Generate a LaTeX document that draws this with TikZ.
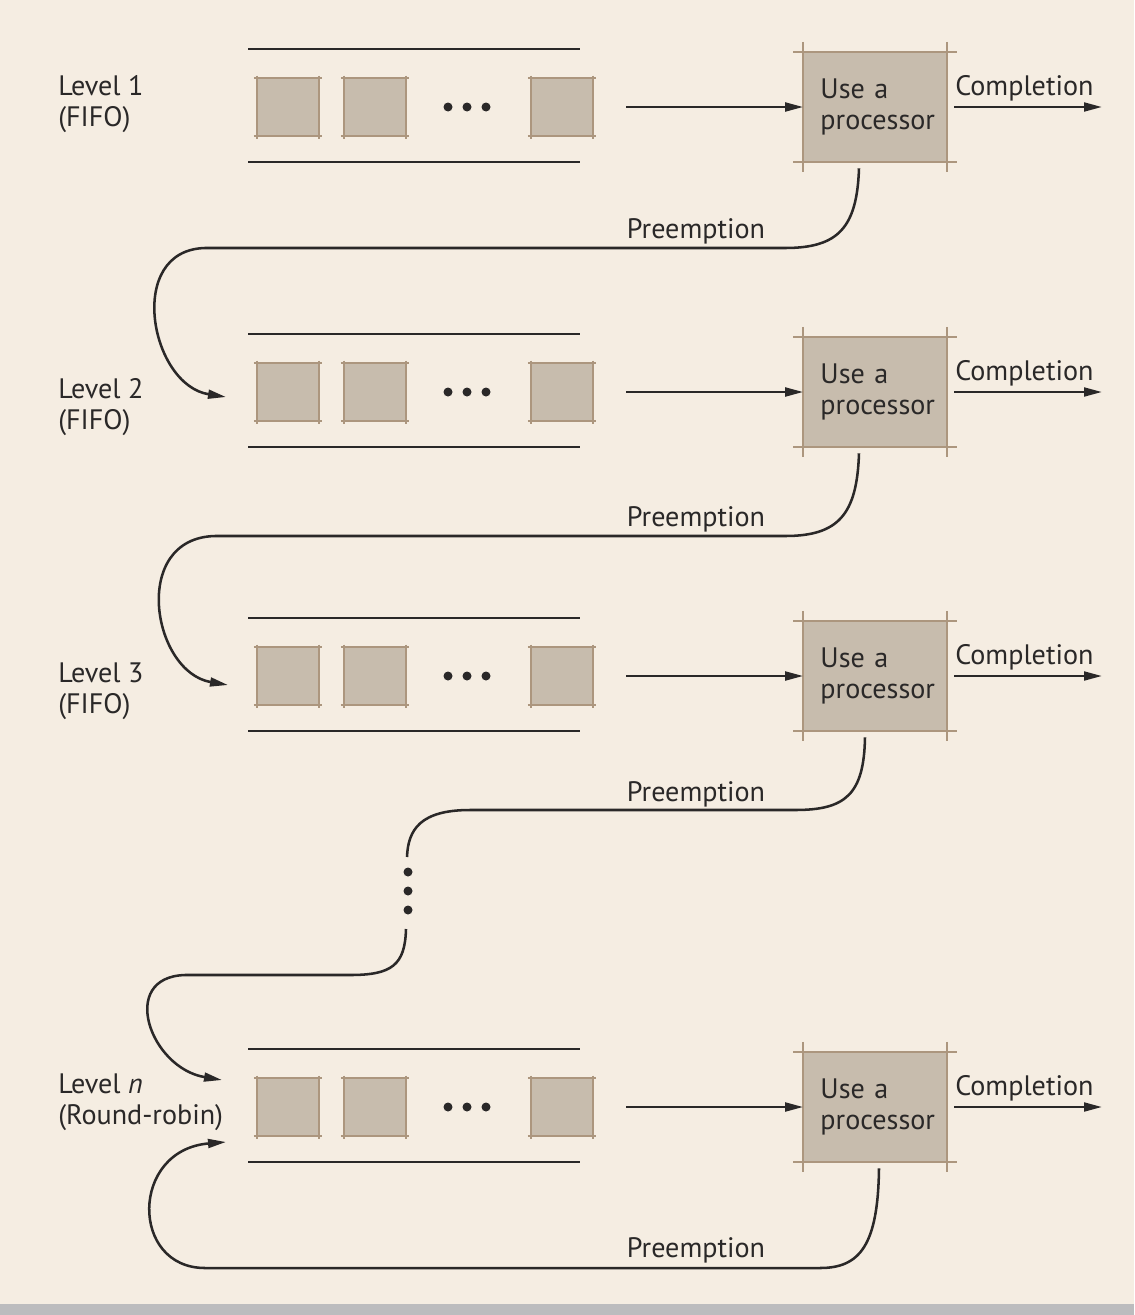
\documentclass[tikz,border=0pt]{standalone}
\usepackage{fontspec}
\setmainfont{PT Sans}
\usetikzlibrary{arrows.meta}
\definecolor{paper}{RGB}{245,237,226}
\definecolor{slotfill}{RGB}{199,188,173}
\definecolor{slotedge}{RGB}{172,150,126}
\definecolor{inkgray}{RGB}{42,40,40}
\definecolor{footgray}{RGB}{188,188,190}
\newcommand\figfont{\fontsize{20}{22}\selectfont}

\tikzset{
  slot/.style={fill=slotfill, minimum width=1.55cm, minimum height=1.42cm, inner sep=0pt},
  cpu/.style={fill=slotfill, minimum width=3.575cm, minimum height=2.75cm, inner xsep=0pt,
    text width=2.725cm, align=left, text=inkgray, font=\figfont},
  rim/.style={draw=slotedge, line width=1.3pt},
  rail/.style={draw=inkgray, line width=2pt},
  wire/.style={draw=inkgray, line width=1.8pt},
  flow/.style={wire, -{Triangle[length=0.45cm,width=0.22cm]}},
  tag/.style={text=inkgray, font=\figfont, inner sep=1pt},
}

% box edges run a little past the corners
\newcommand\ticks[2]{%
  \draw[rim] ([xshift=-#2]#1.north west) -- ([xshift=#2]#1.north east)
             ([xshift=-#2]#1.south west) -- ([xshift=#2]#1.south east)
             ([yshift=#2]#1.north west) -- ([yshift=-#2]#1.south west)
             ([yshift=#2]#1.north east) -- ([yshift=-#2]#1.south east);}

% one level: label, queue, processor, completion
\newcommand\queuerow[4]{%
  \node[tag, anchor=west, align=left, inner sep=0pt] (lvl#1) at (58,#3) {#4};
  \draw[rail] (248,#2-58) -- (580,#2-58);
  \draw[rail] (248,#2+55) -- (580,#2+55);
  \node[slot] (s#1a) at (288,#2) {};
  \node[slot] (s#1b) at (375,#2) {};
  \node[slot] (s#1c) at (562,#2) {};
  \ticks{s#1a}{2pt}\ticks{s#1b}{2pt}\ticks{s#1c}{2pt}
  \foreach \d in {448,467,486} \fill[inkgray] (\d,#2) circle (4.5);
  \node[cpu] (cpu#1) at (875,#2) {Use a\\processor};
  \ticks{cpu#1}{7pt}
  \draw[flow, shorten <=0.82cm] (s#1c) -- (cpu#1);
  \coordinate (done#1) at (1102,#2);
  \draw[flow, shorten <=0.18cm] (cpu#1) -- node[tag, above=2pt] {Completion} (done#1);
}

\begin{document}
\begin{tikzpicture}[x=0.025cm, y=-0.025cm]
\fill[paper] (0,0) rectangle (1134,1315);
\fill[footgray] (0,1304) rectangle (1134,1315);

\queuerow{1}{107}{104}{Level 1\\(FIFO)}
\queuerow{2}{392}{407}{Level 2\\(FIFO)}
\queuerow{3}{676}{691}{Level 3\\(FIFO)}
\queuerow{n}{1107}{1102}{Level \textit{n}\\(Round-robin)}

% where preempted jobs enter the next queue
\coordinate (in2) at (226,397);
\coordinate (in3) at (228,685);
\coordinate (inn) at (222,1080);
\coordinate (back) at (226,1142);
\coordinate (gapa) at (407,857);
\coordinate (gapb) at (406,929);

% preemption paths
\draw[flow] ([xshift=-0.4cm,yshift=-0.15cm]cpu1.south) .. controls (857,228) and (838,248) .. (785,248)
  -- (205,248) .. controls (125,250) and (150,385) .. (in2);
\node[tag] (pre1) at (696,231) {Preemption};

\draw[flow] ([xshift=-0.4cm,yshift=-0.15cm]cpu2.south) .. controls (857,515) and (838,536) .. (785,536)
  -- (215,536) .. controls (130,538) and (152,672) .. (in3);
\node[tag] (pre2) at (696,519) {Preemption};

\draw[wire] ([xshift=-0.25cm,yshift=-0.15cm]cpu3.south) .. controls (864,795) and (845,810) .. (795,810)
  -- (470,810) .. controls (420,810) and (408,830) .. (gapa);
\foreach \y in {872,891,910} \fill[inkgray] (408,\y) circle (4.5);
\draw[flow] (gapb) .. controls (405,965) and (392,975) .. (350,975)
  -- (185,975) .. controls (118,977) and (150,1068) .. (inn);
\node[tag] (pre3) at (696,794) {Preemption};

\draw[flow] ([xshift=0.1cm,yshift=-0.15cm]cpun.south) .. controls (878,1245) and (860,1268) .. (820,1268)
  -- (205,1268) .. controls (130,1268) and (130,1150) .. (back);
\node[tag] (pren) at (696,1250) {Preemption};
\end{tikzpicture}
\end{document}
